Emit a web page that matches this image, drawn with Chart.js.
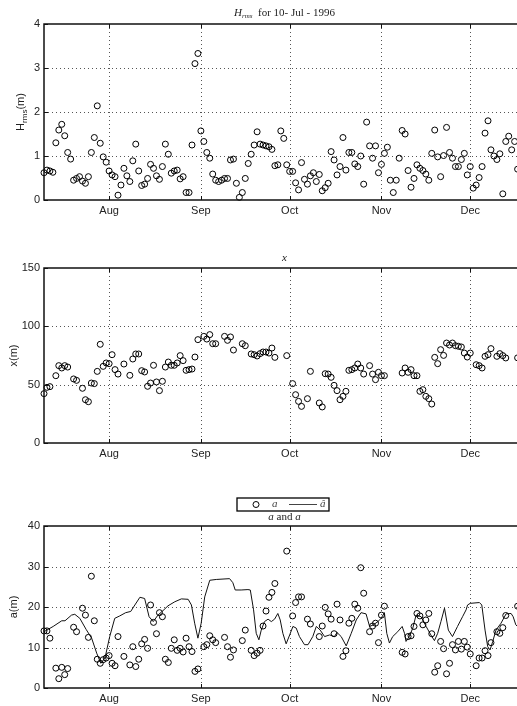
<!DOCTYPE html>
<html>
<head>
<meta charset="utf-8">
<title>Hrms, x and a</title>
<script src="https://cdn.jsdelivr.net/npm/chart.js@4.4.1/dist/chart.umd.min.js"></script>
<style>
  html, body { margin: 0; padding: 0; background: #fff; overflow: hidden; width: 517px; height: 706px; }
  canvas { position: absolute; left: 0; }
</style>
</head>
<body>
<canvas id="hrmsChart" width="530" height="218" style="top:0px"></canvas>
<canvas id="xChart" width="530" height="221" style="top:240px"></canvas>
<canvas id="aChart" width="530" height="216" style="top:490px"></canvas>
<script>
// day 0 = 10-Jul-1996, one sample per day
const monthDays = [22, 53, 83, 114, 144];
const monthLabels = ['Aug', 'Sep', 'Oct', 'Nov', 'Dec'];

const hrms = [
  0.62, 0.68, 0.66, 0.63, 1.30, 1.59, 1.72, 1.46, 1.08, 0.93,
  0.45, 0.49, 0.53, 0.43, 0.38, 0.53, 1.08, 1.42, 2.14, 1.29,
  0.98, 0.86, 0.66, 0.57, 0.53, 0.11, 0.34, 0.72, 0.55, 0.42,
  0.89, 1.27, 0.66, 0.33, 0.36, 0.49, 0.81, 0.72, 0.55, 0.47,
  0.76, 1.27, 1.04, 0.61, 0.66, 0.68, 0.48, 0.53, 0.17, 0.17,
  1.25, 3.10, 3.33, 1.57, 1.33, 1.08, 0.95, 0.59, 0.45, 0.42,
  0.45, 0.49, 0.49, 0.91, 0.93, 0.38, 0.06, 0.17, 0.49, 0.83,
  1.04, 1.25, 1.55, 1.27, 1.25, 1.23, 1.21, 1.15, 0.78, 0.80,
  1.57, 1.40, 0.80, 0.65, 0.65, 0.39, 0.23, 0.85, 0.47, 0.36,
  0.55, 0.62, 0.42, 0.58, 0.21, 0.28, 0.38, 1.10, 0.91, 0.57,
  0.76, 1.42, 0.68, 1.08, 1.08, 0.82, 0.76, 1.00, 0.36, 1.77,
  1.23, 0.95, 1.23, 0.62, 0.81, 1.06, 1.20, 0.45, 0.17, 0.45,
  0.95, 1.58, 1.50, 0.67, 0.29, 0.49, 0.80, 0.72, 0.67, 0.59,
  0.45, 1.06, 1.59, 0.98, 0.53, 1.01, 1.65, 1.08, 0.95, 0.76,
  0.76, 0.92, 1.06, 0.57, 0.76, 0.27, 0.34, 0.51, 0.76, 1.52,
  1.80, 1.14, 1.00, 0.92, 1.05, 0.14, 1.33, 1.45, 1.14, 1.33,
  0.70
];

const xPos = [
  42.3, 47.7, 48.3, null, 57.7, 66.3, 64.3, 66.3, 65.1, null,
  54.9, 53.7, null, 46.9, 37.1, 35.4, 51.4, 50.9, 61.4, 84.6,
  65.7, 68.6, 68.0, 75.7, 62.9, 59.1, null, 67.7, null, 58.0,
  72.0, 76.3, 76.3, 62.0, 60.9, 48.6, 51.4, 66.6, 52.3, 44.9,
  52.9, 65.1, 69.4, 66.6, 66.6, 68.6, 74.9, 70.6, 62.3, 62.9,
  63.4, 73.7, 88.6, null, 91.4, 89.1, 92.9, 85.1, 85.1, null,
  null, 91.4, 88.0, 90.9, 79.7, null, null, 85.1, 83.4, null,
  76.3, 75.7, 74.6, 76.6, 78.0, 78.0, 77.1, 81.4, 73.4, null,
  null, null, 74.9, null, 50.9, 41.4, 35.7, 31.4, null, 38.0,
  61.4, null, null, 34.3, 30.9, 59.4, 59.1, 56.3, 49.4, 44.9,
  37.1, 40.0, 44.3, 62.3, 62.9, 64.3, 67.7, 64.3, 59.1, null,
  66.3, 59.1, 54.3, 60.6, 57.7, 57.7, null, null, null, null,
  null, 60.0, 64.3, 60.6, 62.9, 57.7, 57.7, 44.3, 45.7, 40.0,
  38.0, 33.4, 73.4, 68.0, 80.0, 75.1, 85.7, 84.0, 85.7, 83.4,
  82.9, 82.3, 77.1, 73.7, 77.1, null, 67.1, 66.3, 64.3, 74.3,
  75.7, 80.9, null, 74.3, 76.6, 74.9, 72.9, null, null, null,
  73.0
];

const aObs = [
  14.1, 14.1, 12.3, null, 4.9, 2.3, 5.1, 3.3, 4.8, null,
  15.0, 13.9, null, 19.7, 18.0, 12.5, 27.6, 16.6, 7.1, 6.1,
  7.0, 7.4, 8.0, 6.1, 5.5, 12.7, null, 7.8, null, 5.7,
  10.2, 5.3, 7.1, 10.9, 12.0, 9.8, 20.5, 16.2, 13.4, 18.6,
  17.6, 7.1, 6.3, 9.8, 11.9, 9.3, 9.8, 8.9, 12.3, 10.2,
  9.0, 4.1, 4.7, null, 10.2, 10.7, 12.9, 11.9, 11.2, null,
  null, 12.5, 10.2, 7.6, 9.4, null, null, 11.7, 14.3, null,
  9.3, 8.0, 8.6, 9.3, 15.3, 19.0, 22.4, 23.6, 25.8, null,
  null, null, 33.8, null, 17.8, 21.1, 22.5, 22.5, null, 17.0,
  15.8, null, null, 12.7, 15.3, 19.9, 18.3, 17.0, 13.4, 20.7,
  16.8, 7.8, 9.2, 16.0, 17.2, 20.7, 19.7, 29.7, 23.4, null,
  13.9, 15.3, 16.0, 11.2, 18.0, 20.2, null, null, null, null,
  null, 8.8, 8.4, 12.7, 12.9, 15.2, 18.4, 17.8, 15.6, 16.8,
  18.4, 13.4, 3.9, 5.5, 11.5, 9.7, 3.5, 6.1, 10.7, 9.4,
  11.5, 9.6, 11.5, 10.1, 8.4, null, 5.5, 7.4, 7.4, 9.2,
  8.0, 11.2, null, 13.9, 13.5, 14.9, 17.9, null, null, null,
  20.2
];

// smoothed estimate a-hat
const aHatDays = [
  0, 3.1, 6, 7.1, 9.3, 10.4, 12.1, 14.2, 16.1, 17.8,
  19.2, 20.6, 22.2, 23.9, 25.6, 27.6, 29.3, 30.7, 32.4, 34,
  35.5, 36.9, 38.5, 40.2, 41.9, 44.2, 46.4, 48.7, 49.8, 50.9,
  52, 53.1, 54.3, 56, 58.2, 62.7, 63.8, 64.6, 66.6, 68.9,
  69.7, 70.8, 71.7, 72.6, 73.4, 74.5, 75.7, 76.8, 77.9, 79,
  79.8, 80.7, 81.8, 83, 84.1, 85.2, 86.3, 88, 89.2, 90.8,
  92, 93.3, 94.8, 96.5, 98.1, 99, 100.4, 102.1, 103.8, 105.5,
  107.1, 108.8, 110, 111.3, 112.8, 113.9, 115, 115.8, 116.7, 117.8,
  119.5, 121, 121.8, 122.3, 123.4, 124.6, 125.7, 127.4, 129.1, 130.7,
  131.9, 133, 134.1, 135.3, 136.6, 138, 139.7, 141.4, 142.6, 143.1,
  144, 147.1, 147.9, 149, 149.9, 150.7, 151.6, 152.7, 154.4, 156.1,
  157.8, 158.5, 159.4, 160.5
];
const aHatVals = [
  13.9, 15.2, 16.6, 16.6, 18, 18.2, 17.2, 14.5, 12.3, 8.6,
  6.1, 7.4, 12.7, 17.2, 17.8, 18.6, 18.9, 20.5, 22.4, 22.1,
  17.6, 16.4, 18, 19.1, 20.3, 21.3, 22, 21.9, 20.5, 16,
  12.3, 16, 22.5, 26.6, 26.8, 27, 26, 24.2, 24.2, 24.3,
  24.2, 19.3, 13.5, 11.9, 14.3, 16.4, 17, 16.4, 17, 18.4,
  16.8, 13.5, 10.9, 13.1, 15.2, 14.8, 12.7, 10.7, 10.7, 12.7,
  15.2, 14.3, 12.7, 13.1, 12.7, 13.7, 12.7, 10.4, 13.5, 16.8,
  18.6, 18.3, 15.2, 15.6, 16.4, 17.2, 18.6, 13.5, 11.1, 12.7,
  13.9, 15.2, 13.5, 11.5, 12.7, 14.8, 18, 17.6, 15.2, 13.1,
  11.7, 13.5, 16.4, 19.7, 14.3, 12.7, 15.2, 17.6, 19.3, 20.5,
  20.9, 21.1, 20.5, 14.3, 10.2, 9.4, 11.5, 14.3, 16, 18.3,
  18.4, 17.6, 15.6, 14.8
];

const X_MAX = 162.5;
const sansFont = '"Liberation Sans", Arial, sans-serif';
const serifFont = '"Liberation Serif", "DejaVu Serif", serif';
const tickFont = { family: sansFont, size: 11 };

function toPoints(vals) {
  const pts = [];
  vals.forEach((v, i) => { if (v !== null) pts.push({ x: i, y: v }); });
  return pts;
}

function richWidth(ctx, segs) {
  let w = 0;
  segs.forEach(s => { ctx.font = s.font; w += ctx.measureText(s.text).width; });
  return w;
}

// draws a run of text pieces with their own fonts, centered on cx
function drawRich(ctx, segs, cx, baseY) {
  let x = cx - richWidth(ctx, segs) / 2;
  ctx.textBaseline = 'alphabetic';
  ctx.textAlign = 'left';
  segs.forEach(s => {
    ctx.font = s.font;
    ctx.fillText(s.text, x, baseY + (s.dy || 0));
    x += ctx.measureText(s.text).width;
  });
}

// matlab style axes: dotted grid, box, inward ticks, tex title and labels
const frame = {
  id: 'frame',
  beforeDatasetsDraw(chart) {
    const { ctx, chartArea: a, scales: { x, y } } = chart;
    ctx.save();
    ctx.strokeStyle = '#555';
    ctx.lineWidth = 1;
    ctx.setLineDash([1, 3]);
    ctx.beginPath();
    x.ticks.forEach(t => {
      const px = Math.round(x.getPixelForValue(t.value)) + 0.5;
      ctx.moveTo(px, a.top);
      ctx.lineTo(px, a.bottom);
    });
    y.ticks.forEach(t => {
      if (t.value === y.min || t.value === y.max) return;
      const py = Math.round(y.getPixelForValue(t.value)) + 0.5;
      ctx.moveTo(a.left, py);
      ctx.lineTo(a.right, py);
    });
    ctx.stroke();
    ctx.restore();
  },
  afterDatasetsDraw(chart) {
    const { ctx, chartArea: a, scales: { x, y } } = chart;
    ctx.save();
    ctx.strokeStyle = '#111';
    ctx.lineWidth = 1;
    ctx.beginPath();
    x.ticks.forEach(t => {
      const px = Math.round(x.getPixelForValue(t.value)) + 0.5;
      ctx.moveTo(px, a.bottom);
      ctx.lineTo(px, a.bottom - 4);
      ctx.moveTo(px, a.top);
      ctx.lineTo(px, a.top + 4);
    });
    y.ticks.forEach(t => {
      const py = Math.round(y.getPixelForValue(t.value)) + 0.5;
      ctx.moveTo(a.left, py);
      ctx.lineTo(a.left + 4, py);
    });
    ctx.stroke();
    ctx.lineWidth = 1.5;
    ctx.strokeRect(a.left, a.top, a.right - a.left, a.bottom - a.top);
    ctx.restore();
  },
  afterDraw(chart, args, opts) {
    const { ctx, chartArea: a } = chart;
    const cx = (a.left + a.right) / 2;
    ctx.save();
    ctx.fillStyle = '#222';
    if (opts.title) drawRich(ctx, opts.title, cx, opts.titleY);

    if (opts.ylabel) {
      ctx.save();
      ctx.translate(opts.ylabelX, (a.top + a.bottom) / 2);
      ctx.rotate(-Math.PI / 2);
      drawRich(ctx, opts.ylabel, 0, 4);
      ctx.restore();
    }

    if (opts.legend) {
      const L = opts.legend;
      ctx.strokeStyle = '#000';
      ctx.lineWidth = 1.3;
      ctx.strokeRect(L.left, L.top, L.width, L.height);
      const my = L.top + L.height / 2;
      ctx.lineWidth = 1;
      ctx.beginPath();
      ctx.arc(L.left + 19, my, 3, 0, Math.PI * 2);
      ctx.stroke();
      ctx.fillStyle = '#444';
      ctx.font = 'italic 11px ' + serifFont;
      ctx.textBaseline = 'middle';
      ctx.fillText(L.labels[0], L.left + 35, my);
      ctx.strokeStyle = '#444';
      ctx.beginPath();
      ctx.moveTo(L.left + 52, my);
      ctx.lineTo(L.left + 80, my);
      ctx.stroke();
      ctx.fillText(L.labels[1], L.left + 83, my);
    }
    ctx.restore();
  }
};
Chart.register(frame);

function panelOptions(yMax, yStep, padTop, frameOpts) {
  return {
    responsive: false,
    animation: false,
    events: [],
    layout: { padding: { top: padTop, left: 0, right: 4, bottom: 0 } },
    plugins: {
      legend: { display: false },
      tooltip: { enabled: false },
      frame: frameOpts
    },
    scales: {
      x: {
        type: 'linear',
        min: 0,
        max: X_MAX,
        grid: { display: false, drawTicks: false },
        border: { display: false },
        afterBuildTicks: s => { s.ticks = monthDays.map(v => ({ value: v })); },
        afterFit: s => { s.height = 18; },
        ticks: {
          callback: v => monthLabels[monthDays.indexOf(v)],
          padding: 4,
          font: tickFont,
          color: '#222',
          maxRotation: 0,
          autoSkip: false
        }
      },
      y: {
        min: 0,
        max: yMax,
        grid: { display: false, drawTicks: false },
        border: { display: false },
        afterFit: s => { s.width = 44; },
        ticks: { stepSize: yStep, padding: 4, font: tickFont, color: '#222' }
      }
    }
  };
}

function circles(points) {
  return {
    data: points,
    pointStyle: 'circle',
    pointRadius: 3,
    pointBorderWidth: 1,
    borderColor: '#000',
    backgroundColor: 'rgba(0,0,0,0)',
    clip: false
  };
}

const sub = { font: '8px ' + sansFont, dy: 3 };

// H_rms
new Chart(document.getElementById('hrmsChart'), {
  type: 'scatter',
  data: { datasets: [circles(toPoints(hrms))] },
  options: panelOptions(4, 1, 24, {
    title: [
      { text: 'H', font: 'italic 11px ' + serifFont },
      { text: 'rms', font: 'italic 7px ' + serifFont, dy: 2 },
      { text: '  for 10- Jul - 1996', font: '11px ' + serifFont }
    ],
    titleY: 16,
    ylabel: [
      { text: 'H', font: '11px ' + sansFont },
      { text: 'rms', font: sub.font, dy: sub.dy },
      { text: '(m)', font: '11px ' + sansFont }
    ],
    ylabelX: 20
  })
});

// x
new Chart(document.getElementById('xChart'), {
  type: 'scatter',
  data: { datasets: [circles(toPoints(xPos))] },
  options: panelOptions(150, 50, 28, {
    title: [{ text: 'x', font: 'italic 11px ' + serifFont }],
    titleY: 21,
    ylabel: [{ text: 'x(m)', font: '11px ' + sansFont }],
    ylabelX: 13
  })
});

// a and a-hat
new Chart(document.getElementById('aChart'), {
  type: 'scatter',
  data: {
    datasets: [
      circles(toPoints(aObs)),
      {
        data: aHatDays.map((d, i) => ({ x: d, y: aHatVals[i] })),
        showLine: true,
        borderColor: '#111',
        borderWidth: 1,
        pointRadius: 0,
        tension: 0,
        clip: false
      }
    ]
  },
  options: panelOptions(40, 10, 36, {
    title: [
      { text: 'a', font: 'italic 11px ' + serifFont },
      { text: ' and ', font: '11px ' + serifFont },
      { text: 'a', font: 'italic 11px ' + serifFont }
    ],
    titleY: 30,
    ylabel: [{ text: 'a(m)', font: '11px ' + sansFont }],
    ylabelX: 13,
    legend: { left: 237, top: 8, width: 92, height: 13, labels: ['a', 'â'] }
  })
});
</script>
</body>
</html>
